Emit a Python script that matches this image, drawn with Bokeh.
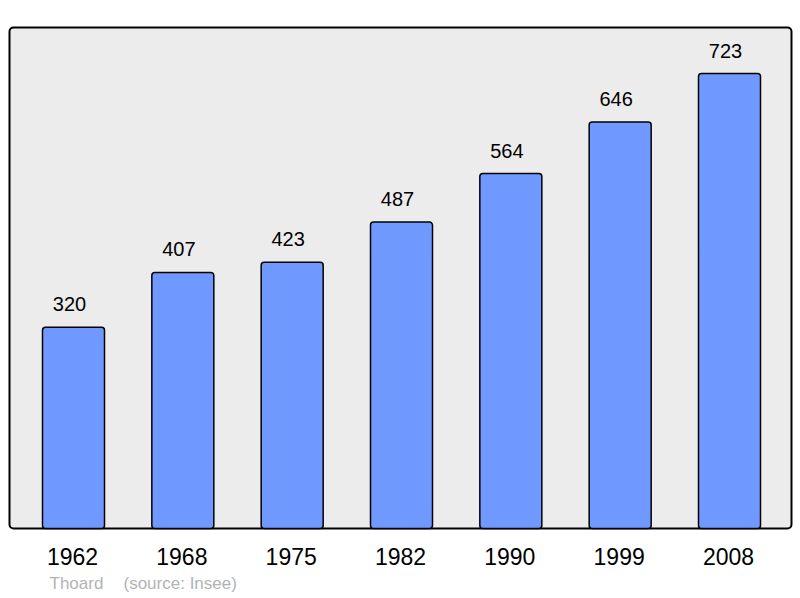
from bokeh.plotting import figure
from bokeh.models import Range1d
from bokeh.embed import file_html
from bokeh.resources import INLINE

years = ["1962", "1968", "1975", "1982", "1990", "1999", "2008"]
population = [320, 407, 423, 487, 564, 646, 723]
commune = "Thoard"
source = "(source: Insee)"

FONT = "Liberation Sans"

p = figure(width=800, height=598, output_backend="svg", toolbar_location=None,
           x_range=Range1d(-0.6677, 6.6494), y_range=Range1d(-111.2, 839.0),
           min_border=0)
p.xaxis.visible = False
p.yaxis.visible = False
p.xgrid.visible = False
p.ygrid.visible = False
p.background_fill_color = "white"
p.border_fill_color = "white"
p.outline_line_color = None

# plot panel
p.quad(left=[-0.5854], right=[6.567], bottom=[0], top=[796],
       fill_color="#ececec", line_color="black", line_width=2, border_radius=4)

xs = list(range(len(years)))
p.vbar(x=xs, top=population, width=0.567, bottom=0,
       fill_color="#7099ff", line_color="black", line_width=1.5, border_radius=3)

p.text(x=xs, y=population, text=[str(v) for v in population], y_offset=-23, x_offset=-4,
       text_align="center", text_baseline="alphabetic", text_font={"value": FONT},
       text_font_size="20px", text_color="black")
p.text(x=xs, y=[0] * len(xs), text=years, y_offset=28, x_offset=-1,
       text_align="center", text_baseline="alphabetic", text_font={"value": FONT},
       text_font_size="23px", text_color="black")

p.text(x=[0, 0], y=[0, 0], text=[commune, source], x_offset=[-24, 50], y_offset=55,
       text_align="left", text_baseline="alphabetic", text_font={"value": FONT},
       text_font_size="17px", text_color="#b3b3b3")

open("out.html", "w").write(file_html(p, INLINE))
